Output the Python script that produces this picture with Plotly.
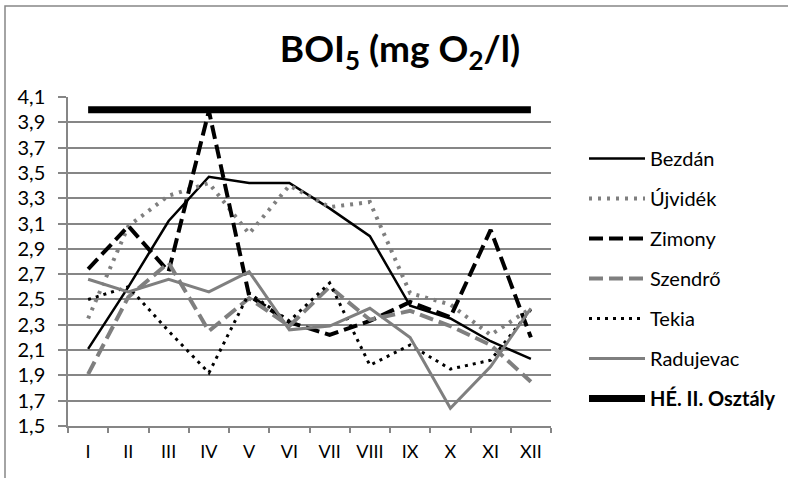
import plotly.graph_objects as go

months = ["I", "II", "III", "IV", "V", "VI", "VII", "VIII", "IX", "X", "XI", "XII"]
bezdan = [2.11, 2.60, 3.12, 3.47, 3.42, 3.42, 3.22, 3.00, 2.45, 2.35, 2.17, 2.03]
ujvidek = [2.35, 3.08, 3.32, 3.42, 3.02, 3.40, 3.23, 3.27, 2.55, 2.46, 2.22, 2.43]
zimony = [2.74, 3.08, 2.72, 3.99, 2.53, 2.32, 2.22, 2.33, 2.48, 2.36, 3.05, 2.20]
szendro = [1.91, 2.52, 2.79, 2.25, 2.51, 2.29, 2.60, 2.34, 2.41, 2.29, 2.14, 1.85]
tekia = [2.50, 2.60, 2.25, 1.92, 2.55, 2.33, 2.63, 1.98, 2.14, 1.95, 2.02, 2.42]
radujevac = [2.66, 2.56, 2.66, 2.56, 2.72, 2.26, 2.29, 2.43, 2.20, 1.64, 1.97, 2.43]
limit_ii = [4.0] * 12
y_ticks = [1.5, 1.7, 1.9, 2.1, 2.3, 2.5, 2.7, 2.9, 3.1, 3.3, 3.5, 3.7, 3.9, 4.1]

GRAY = "#7f7f7f"
FONT = "Lato"

series = [
    ("Bezdán", bezdan, dict(color="black", width=2.5)),
    ("Újvidék", ujvidek, dict(color=GRAY, width=4, dash="3px,6px")),
    ("Zimony", zimony, dict(color="black", width=4, dash="14px,6px")),
    ("Szendrő", szendro, dict(color=GRAY, width=4, dash="14px,6px")),
    ("Tekia", tekia, dict(color="black", width=3, dash="3px,5px")),
    ("Radujevac", radujevac, dict(color=GRAY, width=3)),
    ("<b>HÉ. II. Osztály</b>", limit_ii, dict(color="black", width=7)),
]

fig = go.Figure()
for i, (name, vals, line) in enumerate(series):
    fig.add_trace(go.Scatter(x=months, y=vals, mode="lines", name=name,
                             line=line, legendgroup=str(i)))

L, R, T, B = 68, 237, 97, 52
W, H = 788, 478
pw, ph = W - L - R, H - T - B

def px(x):
    return (x - L) / pw

def py(y):
    return (H - B - y) / ph

fig.update_layout(
    width=W, height=H,
    margin=dict(l=L, r=R, t=T, b=B, autoexpand=False),
    paper_bgcolor="white", plot_bgcolor="white",
    separators=",.",
    font=dict(family=FONT, size=18, color="black"),
    title=dict(text="<b>BOI<sub>5</sub> (mg O<sub>2</sub>/l)</b>",
               xref="container", yref="container",
               x=400 / W, xanchor="center", y=1 - 49 / H, yanchor="middle",
               font=dict(family=FONT, size=37, color="black")),
    showlegend=True,
    legend=dict(x=px(584), xanchor="left", y=py(139), yanchor="top",
                traceorder="grouped", tracegroupgap=11,
                font=dict(family=FONT, size=20, color="black"),
                itemwidth=56, bgcolor="rgba(0,0,0,0)"),
    xaxis=dict(type="category", range=[-0.5, 11.5], showgrid=False,
               showline=True, linecolor="#868686", linewidth=1.5,
               ticks="outside", tickson="boundaries", ticklen=5,
               tickcolor="#868686", tickwidth=1.5, ticklabelstandoff=9,
               tickfont=dict(family=FONT, size=18), fixedrange=True),
    yaxis=dict(range=[1.5, 4.1], tickvals=y_ticks, tickformat=".1f",
               showgrid=True, gridcolor="#868686", gridwidth=1.5,
               showline=True, linecolor="#868686", linewidth=1.5,
               ticks="outside", ticklen=8, tickcolor="#868686", tickwidth=1.5,
               ticklabelstandoff=9, zeroline=False,
               tickfont=dict(family=FONT, size=20), fixedrange=True),
)

fig.add_shape(type="path", xref="paper", yref="paper",
              path=f"M {px(5)} {py(490)} L {px(5)} {py(6)} L {px(800)} {py(6)}",
              line=dict(color="#868686", width=1.5))

fig.write_html("out.html")
